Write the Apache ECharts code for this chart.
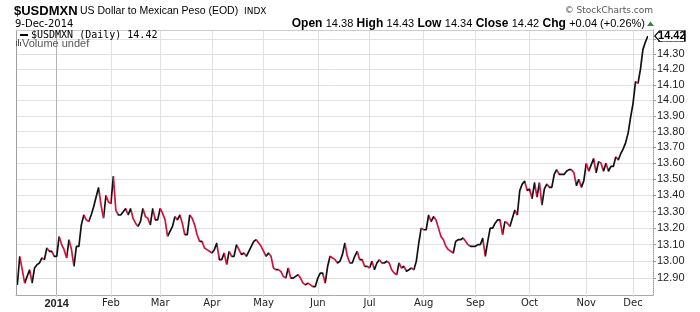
<!DOCTYPE html>
<html>
<head>
<meta charset="utf-8">
<script src="https://cdn.jsdelivr.net/npm/echarts@6/dist/echarts.min.js"></script>
<style>
html,body{margin:0;padding:0;background:#fff;}
#c{width:700px;height:312px;}
</style>
</head>
<body>
<div id="c"></div>
<script>
// ---------- data ----------
const symbolName = '$USDMXN';
const description = 'US Dollar to Mexican Peso (EOD)';
const exchange = 'INDX';
const lastDateLabel = '9-Dec-2014';
const quoteLabels = ['Open', 'High', 'Low', 'Close', 'Chg'];
const quoteValues = ['14.38', '14.43', '14.34', '14.42', '+0.04 (+0.26%)'];
const lastClose = 14.42;

// trading days: weekdays from startDate to endDate, minus holidays
const startDate = '2013-12-09';
const endDate = '2014-12-09';
const holidays = ['2013-12-25', '2014-01-01', '2014-04-18', '2014-07-04', '2014-11-27'];
const monthNames = ['Jan', 'Feb', 'Mar', 'Apr', 'May', 'Jun', 'Jul', 'Aug', 'Sep', 'Oct', 'Nov', 'Dec'];

// daily closes
const closes = [
  12.86, 13.03, 12.95, 12.87, 12.91, 12.95, 12.87, 12.96, 12.98, 12.99,
  13.02, 13.01, 13.08, 13.06, 13.06, 13.03, 13.03, 13.15, 13.10, 13.07,
  13.02, 13.13, 13.07, 12.97, 13.09, 13.09, 13.22, 13.28, 13.25, 13.24,
  13.28, 13.33, 13.39, 13.45, 13.34, 13.26, 13.40, 13.36, 13.35, 13.52,
  13.31, 13.28, 13.28, 13.30, 13.32, 13.28, 13.32, 13.26, 13.23, 13.21,
  13.24, 13.32, 13.27, 13.26, 13.22, 13.32, 13.25, 13.25, 13.32, 13.29,
  13.25, 13.15, 13.18, 13.21, 13.27, 13.25, 13.28, 13.23, 13.16, 13.16,
  13.28, 13.26, 13.22, 13.16, 13.12, 13.12, 13.08, 13.07, 13.06, 13.05,
  13.07, 13.11, 13.01, 13.01, 13.05, 12.98, 13.06, 13.03, 13.03, 13.10,
  13.07, 13.04, 13.05, 13.03, 13.06, 13.09, 13.12, 13.13, 13.11, 13.09,
  13.06, 13.03, 13.05, 13.03, 12.96, 12.95, 12.95, 12.94, 12.91, 12.90,
  12.96, 12.90, 12.90, 12.91, 12.92, 12.90, 12.87, 12.86, 12.87, 12.86,
  12.85, 12.85, 12.90, 12.93, 12.93, 12.87, 12.97, 13.03, 13.02, 13.01,
  12.99, 13.00, 13.04, 13.11, 13.03, 12.99, 12.99, 13.03, 13.06, 13.01,
  13.01, 12.97, 12.97, 12.96, 13.00, 12.95, 12.99, 13.01, 12.99, 12.99,
  13.00, 12.99, 12.95, 12.93, 12.92, 12.99, 12.96, 12.97, 12.94, 12.95,
  12.96, 12.95, 13.00, 13.11, 13.20, 13.19, 13.19, 13.28, 13.24, 13.27,
  13.25, 13.20, 13.15, 13.13, 13.09, 13.07, 13.06, 13.05, 13.12, 13.13,
  13.13, 13.14, 13.12, 13.10, 13.09, 13.09, 13.09, 13.10, 13.10, 13.14,
  13.03, 13.12, 13.20, 13.20, 13.23, 13.25, 13.25, 13.16, 13.24, 13.23,
  13.21, 13.26, 13.31, 13.28, 13.43, 13.47, 13.49, 13.43, 13.44, 13.38,
  13.48, 13.39, 13.48, 13.34, 13.44, 13.47, 13.45, 13.45, 13.53, 13.56,
  13.53, 13.53, 13.53, 13.55, 13.56, 13.56, 13.54, 13.46, 13.50, 13.45,
  13.49, 13.60, 13.55, 13.59, 13.63, 13.54, 13.61, 13.60, 13.55, 13.60,
  13.55, 13.58, 13.58, 13.64, 13.62, 13.66, 13.69, 13.73, 13.79, 13.89,
  13.98, 14.12, 14.11, 14.20, 14.33, 14.38, 14.42
];

const yTicks = [12.90, 13.00, 13.10, 13.20, 13.30, 13.40, 13.50, 13.60, 13.70, 13.80, 13.90, 14.00, 14.10, 14.20, 14.30, 14.40];

// ---------- build ----------
function ymd(d) { return d.toISOString().slice(0, 10); }
const dates = [];
for (let d = new Date(startDate + 'T00:00:00Z'); ymd(d) <= endDate; d.setUTCDate(d.getUTCDate() + 1)) {
  const wd = d.getUTCDay();
  if (wd === 0 || wd === 6) continue;
  if (holidays.indexOf(ymd(d)) >= 0) continue;
  dates.push(ymd(d));
}
if (dates.length !== closes.length) console.error('length mismatch', dates.length, closes.length);

const monthStarts = [];
for (let i = 1; i < dates.length; i++) {
  if (dates[i].slice(0, 7) !== dates[i - 1].slice(0, 7)) monthStarts.push(i);
}
const splitColors = monthStarts.map(i => dates[i].slice(5, 7) === '01' ? '#b4b4b4' : '#e2e2e2');

const UP = '#111111', DOWN = '#d2123c';
const pieces = [];
for (let i = 0; i < closes.length - 1; i++) {
  const p = { gte: i, color: closes[i + 1] >= closes[i] ? UP : DOWN };
  if (i < closes.length - 2) p.lt = i + 1; else p.lte = i + 1;
  pieces.push(p);
}

const xMin = -0.53, xMax = closes.length - 1 + 2.1;
const yMin = 12.80, yMax = 14.46;

const richHeader = {
  b: { fontFamily: 'Liberation Sans', fontWeight: 'bold', fontSize: 12, fill: '#000' },
  v: { fontFamily: 'Liberation Sans', fontSize: 11, fill: '#000' }
};
const headerText = quoteLabels.map((l, k) => '{b|' + l + '} {v|' + quoteValues[k] + '}').join(' ');

const chart = echarts.init(document.getElementById('c'), null, { renderer: 'canvas' });
chart.setOption({
  animation: false,
  backgroundColor: '#fff',
  grid: { left: 16, right: 47, top: 30, bottom: 17, containLabel: false },
  visualMap: { type: 'piecewise', show: false, dimension: 0, seriesIndex: 0, pieces: pieces },
  xAxis: [{
    type: 'value', min: xMin, max: xMax, position: 'bottom',
    axisLine: { onZero: false, lineStyle: { color: '#aaaaaa', width: 1 } },
    axisTick: { show: true, customValues: monthStarts, length: 2, lineStyle: { color: '#cccccc' } },
    axisLabel: {
      customValues: monthStarts, margin: 3, color: '#222', fontFamily: 'DejaVu Sans', fontSize: 10,
      formatter: function (v) {
        const d = dates[Math.round(v)];
        const m = +d.slice(5, 7);
        return m === 1 ? '{yr|' + d.slice(0, 4) + '}' : monthNames[m - 1];
      },
      rich: { yr: { fontFamily: 'Liberation Sans', fontWeight: 'bold', fontSize: 11, color: '#222' } }
    },
    splitLine: { show: true, lineStyle: { color: splitColors, width: 1 } }
  }, {
    type: 'value', min: xMin, max: xMax, position: 'top',
    axisLine: { show: true, onZero: false, lineStyle: { color: '#cccccc' } },
    axisTick: { show: false }, axisLabel: { show: false }, splitLine: { show: false }
  }],
  yAxis: [{
    type: 'log', logBase: 10, min: yMin, max: yMax, position: 'right',
    axisLine: { show: true, onZero: false, lineStyle: { color: '#999', type: 'dotted' } },
    axisTick: { show: true, customValues: yTicks, length: 3, lineStyle: { color: '#999' } },
    axisLabel: {
      customValues: yTicks, margin: 4, color: '#222', fontFamily: 'Liberation Sans', fontSize: 11,
      formatter: function (v) { return (+v).toFixed(2); }
    },
    splitLine: { show: true, lineStyle: { color: '#e2e2e2', width: 1 } }
  }, {
    type: 'value', min: 0, max: 1, position: 'left',
    axisLine: { show: true, onZero: false, lineStyle: { color: '#a0a0a0' } },
    axisTick: { show: false }, axisLabel: { show: false }, splitLine: { show: false }
  }],
  series: [{
    type: 'line',
    xAxisIndex: 0, yAxisIndex: 0,
    data: closes.map((v, i) => [i, v]),
    showSymbol: false, symbol: 'none',
    lineStyle: { width: 1.7 },
    z: 3,
    markPoint: {
      silent: true,
      symbol: 'path://M0,5L5,0L30,0L30,10L5,10Z',
      symbolSize: [30, 11],
      symbolKeepAspect: false,
      symbolOffset: [22, 0],
      itemStyle: { color: '#fff', borderColor: '#000', borderWidth: 1 },
      label: {
        show: true, position: 'inside', offset: [2, 0],
        formatter: lastClose.toFixed(2),
        fontFamily: 'Liberation Sans', fontWeight: 'bold', fontSize: 11, color: '#000'
      },
      data: [{ coord: [closes.length - 1, lastClose] }]
    }
  }],
  graphic: [
    { type: 'text', x: 14, y: 11, z: 10, style: { text: symbolName, font: 'bold 13px "Liberation Sans"', fill: '#000', textVerticalAlign: 'middle' } },
    { type: 'text', x: 80, y: 11.5, z: 10, style: { text: description, font: '10.5px "Liberation Sans"', fill: '#000', textVerticalAlign: 'middle' } },
    { type: 'text', x: 244, y: 12, z: 10, style: { text: exchange, font: '9px "DejaVu Sans"', fill: '#000', textVerticalAlign: 'middle' } },
    { type: 'text', x: 15, y: 24, z: 10, style: { text: lastDateLabel, font: '10px "DejaVu Sans"', fill: '#000', textVerticalAlign: 'middle' } },
    { type: 'text', x: 645, y: 24, z: 10, style: { text: headerText, rich: richHeader, textAlign: 'right', textVerticalAlign: 'middle' } },
    { type: 'polygon', z: 10, shape: { points: [[647, 26], [654, 26], [650.5, 21.5]] }, style: { fill: '#2f8a3a' } },
    { type: 'text', x: 653, y: 11, z: 10, style: { text: '\u00a9 StockCharts.com', font: '9px "DejaVu Sans"', fill: '#555', textAlign: 'right', textVerticalAlign: 'middle' } },
    { type: 'rect', z: 10, shape: { x: 20, y: 34, width: 8, height: 2 }, style: { fill: '#000' } },
    { type: 'text', x: 31, y: 35, z: 10, style: { text: symbolName + ' (Daily) ' + lastClose.toFixed(2), font: '10px "DejaVu Sans Mono"', fill: '#000', textVerticalAlign: 'middle' } },
    { type: 'rect', z: 10, shape: { x: 16, y: 41, width: 1, height: 5 }, style: { fill: '#555' } },
    { type: 'rect', z: 10, shape: { x: 18, y: 39, width: 1, height: 7 }, style: { fill: '#555' } },
    { type: 'rect', z: 10, shape: { x: 20, y: 42, width: 1, height: 4 }, style: { fill: '#555' } },
    { type: 'text', x: 22, y: 43.5, z: 10, style: { text: 'Volume undef', font: '11px "Liberation Sans"', fill: '#555', textVerticalAlign: 'middle' } }
  ]
});
</script>
</body>
</html>
